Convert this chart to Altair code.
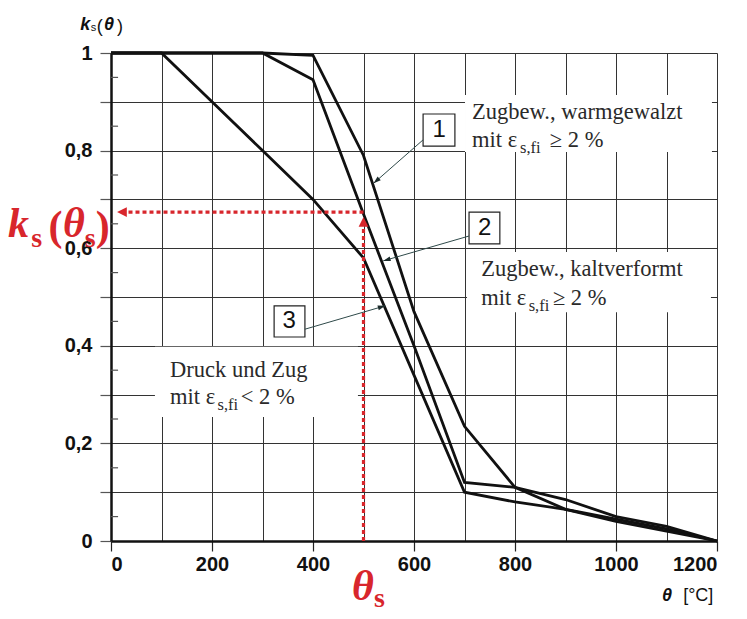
import math
import altair as alt
import pandas as pd

# ---------------- data ----------------
temps = [0, 100, 200, 300, 400, 500, 600, 700, 800, 900, 1000, 1100, 1200]
k_warm = [1.0, 1.0, 1.0, 1.0, 0.995, 0.79, 0.47, 0.235, 0.11, 0.065, 0.045, 0.025, 0.0]
k_cold = [1.0, 1.0, 1.0, 1.0, 0.945, 0.67, 0.40, 0.12, 0.11, 0.085, 0.05, 0.03, 0.0]
k_comp = [1.0, 1.0, 0.90, 0.80, 0.70, 0.58, 0.34, 0.10, 0.08, 0.065, 0.04, 0.02, 0.0]
curve_ids = ["1", "2", "3"]

x_ticks = list(range(0, 1201, 100))
y_ticks = [round(i / 10, 1) for i in range(11)]
y_minor = [round(0.05 + i / 10, 2) for i in range(10)]

theta_s = 500
k_at_theta_s = 0.674

rows = []
for cid, ks in zip(curve_ids, [k_warm, k_cold, k_comp]):
    for t, k in zip(temps, ks):
        rows.append({"theta": t, "k": k, "curve": cid})
curves = pd.DataFrame(rows)

# ---------------- scales / axes ----------------
W, H = 606, 488
PX_X = W / 1200.0
PX_Y = H / 1.0

XS = alt.Scale(domain=[0, 1200], nice=False, zero=False)
YS = alt.Scale(domain=[0, 1], nice=False, zero=False)

y_label_expr = (
    "(round(datum.value*10) % 2 == 0) ? "
    "(datum.value == 0 ? '0' : (datum.value == 1 ? '1' : replace(format(datum.value, '.1f'), '.', ','))) : ''"
)
XA = alt.Axis(
    values=x_ticks, grid=True, gridColor="#333333", gridWidth=1, ticks=True,
    tickSize=10, tickColor="#222222", tickWidth=1.2,
    tickOpacity={"condition": {"test": "datum.value % 200 == 0", "value": 1}, "value": 0},
    domainColor="#111111", domainWidth=2.5, labelFont="Liberation Sans",
    labelFontWeight="bold", labelFontSize=20, labelColor="#111111", labelPadding=3,
    labelExpr="datum.value % 200 == 0 ? format(datum.value, 'd') : ''", title=None)
YA = alt.Axis(
    values=y_ticks, grid=True, gridColor="#333333", gridWidth=1, ticks=True,
    tickSize=11, tickColor="#555555", tickWidth=1.2,
    domainColor="#111111", domainWidth=2.5, labelFont="Liberation Sans",
    labelFontWeight="bold", labelFontSize=20, labelColor="#111111", labelPadding=8,
    labelExpr=y_label_expr, title=None)


def X(f):
    return alt.X(f, type="quantitative", scale=XS, axis=XA, title=None)


def Y(f):
    return alt.Y(f, type="quantitative", scale=YS, axis=YA, title=None)


def text_layer(items, **kw):
    df = pd.DataFrame(items, columns=["text", "x", "y"])
    return alt.Chart(df).mark_text(align="left", baseline="alphabetic", **kw).encode(
        x=X("x"), y=Y("y"), text="text:N"
    )


# ---------------- annotation layout (data units) ----------------
white_boxes = pd.DataFrame({
    "x": [701, 705, 87], "x2": [1190, 1188, 489],
    "y": [0.797, 0.469, 0.254], "y2": [0.914, 0.592, 0.398],
})
num_boxes = pd.DataFrame({
    "x": [618, 709, 323], "x2": [681, 770, 384],
    "y": [0.809, 0.609, 0.418], "y2": [0.875, 0.674, 0.482],
    "cx": [650, 740, 353], "cy": [0.842, 0.641, 0.45],
    "label": curve_ids,
})
leaders = pd.DataFrame({
    "x": [618, 709, 384], "y": [0.822, 0.625, 0.434],
    "x2": [520, 539, 543], "y2": [0.733, 0.574, 0.482],
})


def angle(dx, dy):
    # clockwise rotation (deg) from "up" in pixel space
    a = math.degrees(math.atan2(dx * PX_X, dy * PX_Y))
    return a % 360


leaders["angle"] = [angle(r.x2 - r.x, r.y2 - r.y) for r in leaders.itertuples()]

note_main = [
    ("Zugbew., warmgewalzt", 715, 0.865), ("mit ε", 715, 0.807), ("≥ 2 %", 869, 0.807),
    ("Zugbew., kaltverformt", 733, 0.543), ("mit ε", 733, 0.484), ("≥ 2 %", 875, 0.484),
    ("Druck und Zug", 117, 0.336), ("mit ε", 117, 0.281), ("< 2 %", 257, 0.281),
]
note_sub = [("s,fi", 810, 0.796), ("s,fi", 827, 0.472), ("s,fi", 211, 0.269)]

red_big_italic = [("k", -204, 0.623), ("θ", -95, 0.623), ("θ", 477, -0.121)]
red_big_upright = [("(", -124, 0.617), (")", -30, 0.617)]
red_sub = [("s", -158, 0.602), ("s", -52, 0.602), ("s", 521, -0.135)]

title_bi = [("k", -61, 1.047), ("θ", -14, 1.047), ("θ", 1091, -0.123)]
title_reg = [("(", -28, 1.043), (")", 12, 1.043), ("[°C]", 1133, -0.123)]
title_sub = [("s", -40, 1.045)]

red_rules = pd.DataFrame({
    "x": [theta_s, theta_s], "x2": [theta_s, 22],
    "y": [0.0, k_at_theta_s], "y2": [0.655, k_at_theta_s],
})
red_heads = pd.DataFrame({"x": [theta_s, 12], "y": [0.664, k_at_theta_s], "angle": [0, 270]})

minor = pd.DataFrame({"y": y_minor, "x": [0] * len(y_minor), "x2": [14] * len(y_minor)})

RED = "#d8262c"
INK = "#2a2a2a"

# ---------------- layers ----------------
base = alt.Chart(curves).mark_line(color="#111111", strokeWidth=2.8, strokeJoin="miter").encode(
    x=alt.X("theta:Q", scale=XS, axis=XA, title=None),
    y=alt.Y("k:Q", scale=YS, axis=YA, title=None),
    detail="curve:N",
)

minor_l = alt.Chart(minor).mark_rule(color="#555555", strokeWidth=1.2).encode(
    x=X("x"), x2="x2", y=Y("y"))

white_l = alt.Chart(white_boxes).mark_rect(fill="white").encode(
    x=X("x"), x2="x2", y=Y("y"), y2="y2")

num_l = alt.Chart(num_boxes).mark_rect(fill="white", stroke="#222222", strokeWidth=1.2).encode(
    x=X("x"), x2="x2", y=Y("y"), y2="y2")
num_t = alt.Chart(num_boxes).mark_text(font="Liberation Sans", fontSize=24, color="#111111",
                                       align="center", baseline="middle").encode(
    x=X("cx"), y=Y("cy"), text="label:N")

lead_l = alt.Chart(leaders).mark_rule(color="#2f4a4a", strokeWidth=1).encode(
    x=X("x"), x2="x2", y=Y("y"), y2="y2")
lead_h = alt.Chart(leaders).mark_point(shape="M0,0 L0.32,1 L-0.32,1 Z", size=220, filled=True,
                                      color="#1a2a2a", opacity=1).encode(
    x=X("x2"), y=Y("y2"), angle=alt.Angle("angle:Q", scale=None))

notes_l = text_layer(note_main, font="Liberation Serif", fontSize=22.5, color=INK)
subs_l = text_layer(note_sub, font="Liberation Serif", fontSize=16.5, color=INK)

red_r = alt.Chart(red_rules).mark_rule(color=RED, strokeWidth=3.2, strokeDash=[4, 3]).encode(
    x=X("x"), x2="x2", y=Y("y"), y2="y2")
red_h = alt.Chart(red_heads).mark_point(shape="M0,0 L0.5,1 L-0.5,1 Z", size=380, filled=True,
                                       color=RED, opacity=1).encode(
    x=X("x"), y=Y("y"), angle=alt.Angle("angle:Q", scale=None))

red_t1 = text_layer(red_big_italic, font="Liberation Serif", fontSize=42, fontStyle="italic",
                    fontWeight="bold", color=RED)
red_t2 = text_layer(red_big_upright, font="Liberation Serif", fontSize=42, fontWeight="bold", color=RED)
red_t3 = text_layer(red_sub, font="Liberation Serif", fontSize=28, fontWeight="bold", color=RED)

tt1 = text_layer(title_bi, font="Liberation Sans", fontSize=18, fontStyle="italic",
                 fontWeight="bold", color="#111111")
tt2 = text_layer(title_reg, font="Liberation Sans", fontSize=18, color="#111111")
tt3 = text_layer(title_sub, font="Liberation Sans", fontSize=11, color="#111111")

chart = alt.layer(
    base, white_l, minor_l, num_l, num_t, lead_l, lead_h, notes_l, subs_l,
    red_r, red_h, red_t1, red_t2, red_t3, tt1, tt2, tt3,
).properties(
    width=W, height=H,
    autosize=alt.AutoSizeParams(type="none"),
    padding={"left": 111, "top": 53, "right": 30, "bottom": 78},
    background="white",
).configure_view(stroke=None)

chart.save("out.html", embed_options={"renderer": "svg", "actions": False})
